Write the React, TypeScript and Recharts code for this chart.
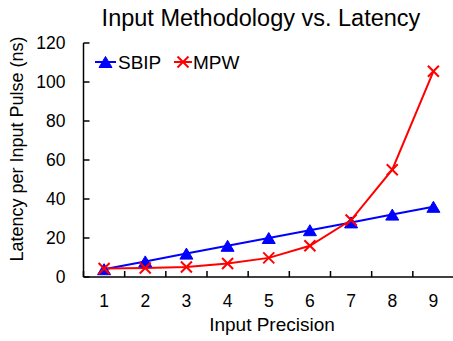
import React from 'react';
import { LineChart, Line, XAxis, YAxis, Customized } from 'recharts';

const precisions = [1, 2, 3, 4, 5, 6, 7, 8, 9];
const sbipLatency = [4, 8, 12, 16, 20, 24, 28, 32, 36];
const mpwLatency = [4.4, 4.6, 5.1, 6.9, 9.8, 16, 29.2, 55, 105.5];
const yTicks = [0, 20, 40, 60, 80, 100, 120];

const title = 'Input Methodology vs. Latency';
const xTitle = 'Input Precision';
const yTitle = 'Latency per Input Pulse (ns)';
const seriesNames = ['SBIP', 'MPW'];

const data = precisions.map((p, i) => ({ p, sbip: sbipLatency[i], mpw: mpwLatency[i] }));
const xTicks = precisions.flatMap((p) => [p - 0.5, p]).concat([precisions[precisions.length - 1] + 0.5]);

const FONT = '"Liberation Sans", Arial, sans-serif';
const BLUE = '#0000FF';
const RED = '#FF0000';

const XTick = (props: any) => {
  const { x, y, payload } = props;
  const v = payload.value;
  if (!Number.isInteger(v)) {
    return <line x1={x} x2={x} y1={y} y2={y - 6} stroke="#000" strokeWidth={1.5} />;
  }
  return (
    <text x={x} y={y + 30} textAnchor="middle" fontSize={17.5} fontFamily={FONT} fill="#000">
      {v}
    </text>
  );
};

const YTick = (props: any) => {
  const { x, y, payload } = props;
  return (
    <g>
      <line x1={x} x2={x + 6} y1={y} y2={y} stroke="#000" strokeWidth={1.5} />
      <text x={x - 18} y={y} dy="0.36em" textAnchor="end" fontSize={17.5} fontFamily={FONT} fill="#000">
        {payload.value}
      </text>
    </g>
  );
};

const Triangle = (props: any) => {
  const { cx, cy } = props;
  if (cx == null || cy == null) return null;
  const w = 6.5;
  const h = 11;
  return (
    <polygon
      points={`${cx - w},${cy + h / 2} ${cx + w},${cy + h / 2} ${cx},${cy - h / 2}`}
      fill={BLUE}
      stroke={BLUE}
      strokeWidth={1}
    />
  );
};

const Cross = (props: any) => {
  const { cx, cy } = props;
  if (cx == null || cy == null) return null;
  const s = 5.5;
  return (
    <g stroke={RED} strokeWidth={2}>
      <line x1={cx - s} y1={cy - s} x2={cx + s} y2={cy + s} />
      <line x1={cx - s} y1={cy + s} x2={cx + s} y2={cy - s} />
    </g>
  );
};

const Overlay = () => (
  <g fontFamily={FONT} fill="#000">
    <text x={261} y={26} textAnchor="middle" fontSize={23.5}>{title}</text>
    <text x={272} y={331} textAnchor="middle" fontSize={19}>{xTitle}</text>
    <text x={23} y={149} textAnchor="middle" fontSize={18} transform="rotate(-90, 23, 149)">{yTitle}</text>
    <g transform="translate(92, 47)">
      <line x1={3} x2={24} y1={15} y2={15} stroke={BLUE} strokeWidth={2} />
      <Triangle cx={13.5} cy={15} />
      <text x={26} y={22} fontSize={19}>{seriesNames[0]}</text>
      <line x1={82} x2={100} y1={15} y2={15} stroke={RED} strokeWidth={2} />
      <Cross cx={91} cy={15} />
      <text x={101} y={22} fontSize={19}>{seriesNames[1]}</text>
    </g>
  </g>
);

export default function App() {
  return (
    <div style={{ position: 'absolute', left: 0, top: 0, width: 453, height: 341, background: '#fff' }}>
      <LineChart width={453} height={341} data={data} margin={{ top: 43, right: -1, bottom: 34, left: 23 }}>
        <XAxis
          dataKey="p"
          type="number"
          domain={[0.5, 9.5]}
          ticks={xTicks}
          interval={0}
          tickSize={0}
          tickMargin={0}
          tickLine={false}
          tick={<XTick />}
          axisLine={{ stroke: '#000', strokeWidth: 1.5 }}
          height={30}
          allowDecimals
        />
        <YAxis
          type="number"
          domain={[0, 120]}
          ticks={yTicks}
          interval={0}
          tickSize={0}
          tickMargin={0}
          tickLine={false}
          tick={<YTick />}
          axisLine={{ stroke: '#000', strokeWidth: 1.5 }}
          width={60.5}
        />
        <Line
          dataKey="sbip"
          stroke={BLUE}
          strokeWidth={2}
          dot={<Triangle />}
          activeDot={false}
          isAnimationActive={false}
        />
        <Line
          dataKey="mpw"
          stroke={RED}
          strokeWidth={2}
          dot={<Cross />}
          activeDot={false}
          isAnimationActive={false}
        />
        <Customized component={<Overlay />} />
      </LineChart>
    </div>
  );
}
